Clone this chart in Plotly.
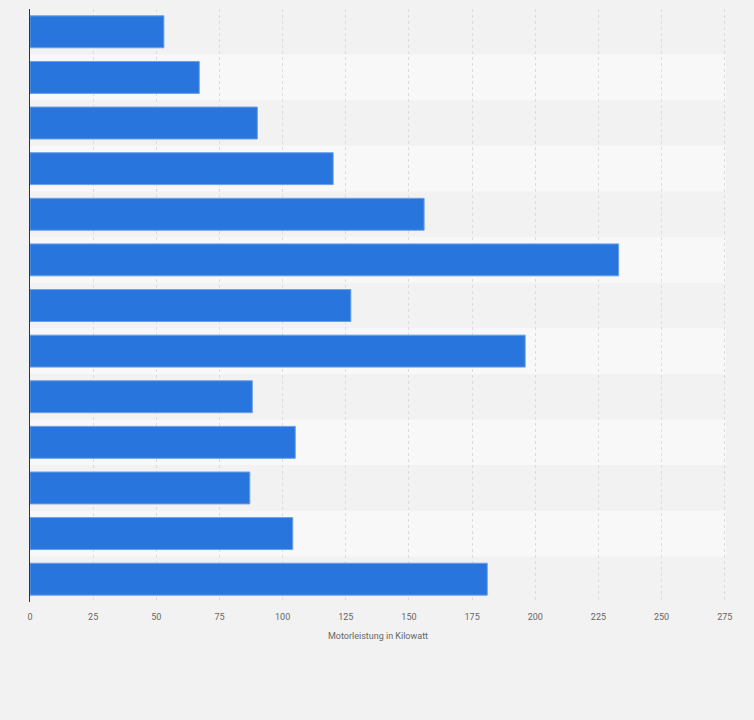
import plotly.graph_objects as go

# values (top to bottom), category labels are not shown in the original
modelle = ["Modell 1", "Modell 2", "Modell 3", "Modell 4", "Modell 5", "Modell 6", "Modell 7",
           "Modell 8", "Modell 9", "Modell 10", "Modell 11", "Modell 12", "Modell 13"]
kilowatt = [53, 67, 90, 120, 156, 233, 127, 196, 88, 105, 87, 104, 181]
x_ticks = [0, 25, 50, 75, 100, 125, 150, 175, 200, 225, 250, 275]

fig = go.Figure(go.Bar(
    x=kilowatt, y=modelle, orientation="h",
    marker=dict(color="#2876dd", line=dict(color="#6b9fe6", width=1)),
))

# alternating row bands behind the bars
shapes = []
for i in range(len(modelle)):
    if i % 2 == 1:
        shapes.append(dict(type="rect", xref="x domain", yref="y", layer="below",
                           x0=0, x1=1, y0=i - 0.5, y1=i + 0.5,
                           fillcolor="#f8f8f8", line_width=0))

fig.update_layout(
    width=754, height=720,
    margin=dict(l=30, r=28, t=9, b=118),
    paper_bgcolor="#f2f2f2", plot_bgcolor="#f2f2f2",
    bargap=0.3, showlegend=False, shapes=shapes,
    font=dict(family="Roboto, Arial", size=9, color="#666666"),
)
fig.update_xaxes(
    range=[0, 275.5], tickvals=x_ticks, showgrid=True,
    gridcolor="#dcdcdc", griddash="dot", gridwidth=1, zeroline=False,
    ticks="", ticklabelstandoff=8,
    title=dict(text="Motorleistung in Kilowatt", font=dict(size=9, color="#666666"), standoff=11),
)
fig.update_yaxes(
    categoryorder="array", categoryarray=modelle, autorange="reversed",
    showticklabels=False, showline=True, linecolor="#333333", linewidth=1,
    showgrid=False, zeroline=False,
)

fig.write_html("out.html", config={"displayModeBar": False},
               post_script="document.body.style.margin='0';document.body.style.background='#f2f2f2';")
